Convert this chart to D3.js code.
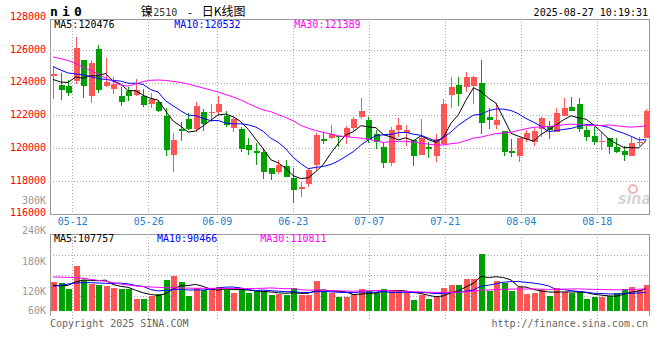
<!DOCTYPE html>
<html><head><meta charset="utf-8">
<script src="https://cdn.jsdelivr.net/npm/d3@7"></script>
<style>
html,body{margin:0;padding:0;background:#fff;}
svg{display:block;}
text{font-family:"DejaVu Sans Mono","Liberation Mono",monospace;font-size:10px;}
</style></head><body>
<svg id="c" width="660" height="360"></svg>
<script>
// ---------- data ----------
const dates = ["05-07","05-08","05-09","05-12","05-13","05-14","05-15","05-16","05-19","05-20","05-21","05-22","05-23","05-26","05-27","05-28","05-29","05-30","06-03","06-04","06-05","06-06","06-09","06-10","06-11","06-12","06-13","06-16","06-17","06-18","06-19","06-20","06-23","06-24","06-25","06-26","06-27","06-30","07-01","07-02","07-03","07-04","07-07","07-08","07-09","07-10","07-11","07-14","07-15","07-16","07-17","07-18","07-21","07-22","07-23","07-24","07-25","07-28","07-29","07-30","07-31","08-01","08-04","08-05","08-06","08-07","08-08","08-11","08-12","08-13","08-14","08-15","08-18","08-19","08-20","08-21","08-22","08-25","08-26","08-27"];
const open = [124390,123860,123800,124130,125390,123210,126060,123820,123620,123210,123500,123250,123210,122680,122850,121970,119590,121180,121790,121180,122210,122190,122190,121990,121220,121180,120200,119850,119790,118810,118510,118920,118200,117490,117800,118940,120560,120650,120750,120670,121260,121930,121730,120870,120040,119120,121110,120910,120500,119590,120040,119490,120260,123250,123860,123760,123820,124000,121930,121420,121070,119830,119490,120540,120400,121180,121380,120970,121970,122500,122700,121110,120750,120420,120600,120040,119830,119490,120300,120610];
const high = [125040,124580,124170,126810,125390,125390,126310,125530,124370,123760,123720,124210,123600,123350,122950,122440,120950,121620,122130,122850,122380,122700,123210,122280,121890,121320,120610,120300,120000,118810,119280,119280,118810,117900,118710,120950,120970,121420,120750,121380,121930,123090,121890,121110,120360,121280,121830,121420,120500,121770,120400,120850,123010,124370,124370,124640,124430,125390,122440,122740,121070,120570,120650,121110,121220,121890,121660,122480,123090,123150,123090,121420,121320,121010,120600,120600,120100,120710,120670,122380];
const low = [123010,122950,123210,123900,123090,122780,123350,123760,123310,122580,122910,123190,122540,122480,122190,119530,118570,120460,121110,120970,121070,121620,122030,121320,120970,119790,119590,118980,118120,118020,118430,118220,116640,117000,117610,118670,120260,120540,120060,120260,121010,121790,120340,119950,118770,118920,120670,120100,118880,119590,119380,119140,120200,122480,122600,123410,122700,120850,121180,121180,119490,119450,119140,120400,120100,120710,120540,120970,121970,122300,121010,120460,120200,119890,119650,119730,119220,119490,120140,120610];
const close = [124510,123560,123390,126140,123820,125230,123560,124070,123900,122850,123210,123560,122640,122990,122280,119890,120500,121070,121180,122580,121480,122230,122700,121420,121790,119950,119890,119690,118510,118430,118940,118260,117410,117650,118670,120810,120460,120850,120670,121260,121790,122300,120500,120400,119120,121110,121420,121110,119490,120650,119930,120560,122700,123760,123310,124330,124370,121560,121730,121730,119790,119730,120650,120910,121070,121830,121110,122170,122480,122300,121180,120710,120400,120460,120040,119790,119550,120300,120400,122300];
const volume = [137900,135900,124000,169700,141900,133900,132600,129900,126000,124000,124000,104100,104100,109400,114000,141900,149800,137900,110100,126000,122000,122000,127300,126000,116000,123300,116000,120700,119300,111400,114700,111400,126000,112700,112700,140600,119300,116000,108100,108100,113400,124000,120000,115400,124000,122000,122000,116700,102100,111400,104700,108100,125300,131900,131900,143900,143900,194300,119300,140600,135300,120000,128000,114700,116700,121300,110100,125300,117300,116700,120700,104700,108100,108700,109400,116700,124000,128600,122000,131900];

// moving-average values at the left edge (history before the first visible day)
const ma5Lead = [124200,124050,124020,124350];
const ma10Lead = [124990,124780,124600,124540,124480,124380,124260,124200,124140];
const ma30Lead = [125580,125480,125360,125180,124960,124750,124540,124290,124080,123860,123800,123920,124080,124150,124170,124140,124080,124020,123920,123800,123680,123560,123430,123280,123130,122950,122730,122520,122330];
const volMa5Lead = [131900,130000,131300,137900];
const volMa10Lead = [129300,131300,133900,135900,136600,136600,135900,135300,135300];
const volMa30Lead = [147900,147500,147200,146500,145200,143200,141200,139200,136600,133900,131900,130000,128600,128000,127300,126600,126300,126000,125700,125400,125400,125300,125200,125100,125000,125000,125000,125100,125400];

const priceTicks = [128000,126000,124000,122000,120000,118000,116000];
const priceGrid = [126000,124000,122000,120000,118000];
const volTicks = [300000,240000,180000,120000,60000];
const dateTicks = ["05-12","05-26","06-09","06-23","07-07","07-21","08-04","08-18"];
const maLabels = ["MA5:120476","MA10:120532","MA30:121389"];
const volMaLabels = ["MA5:107757","MA10:90466","MA30:110811"];
const maColors = ["#000000","#0000ff","#ff00ff"];

// ---------- layout ----------
const svg = d3.select("#c");
const PL = 50, PR = 649, PT = 19, PB = 213.5, VT = 234, VB = 316, VBASE = 310.7;
const RED = "#ff5555", GREEN = "#00a000", GRID = "#a8a8a8", FRAME = "#999999";

const x = d3.scaleBand().domain(dates).range([49.25, 649.95]).paddingInner(0);
const xc = d => x(d) + x.bandwidth() / 2;
const gx = d3.scalePoint().domain(dates).range([49.5, 649.9]);
const y = d3.scaleLinear().domain([116000, 128000]).range([213.5, 17.4]);
const yv = d3.scaleLinear().domain([80800, 300000]).range([VBASE, 200.5]).clamp(true);

function movingAverage(values, n, lead) {
  return values.map((v, i) => i < n - 1 ? lead[i] : d3.mean(values.slice(i - n + 1, i + 1)));
}
const ma = [movingAverage(close, 5, ma5Lead), movingAverage(close, 10, ma10Lead), movingAverage(close, 30, ma30Lead)];
const vma = [movingAverage(volume, 5, volMa5Lead), movingAverage(volume, 10, volMa10Lead), movingAverage(volume, 30, volMa30Lead)];

const rows = dates.map((d, i) => ({d, i, o: open[i], h: high[i], l: low[i], c: close[i], v: volume[i], up: close[i] >= open[i]}));

// ---------- grid ----------
const grid = svg.append("g").attr("shape-rendering", "crispEdges");
grid.selectAll("line.h").data(priceGrid).join("line")
  .attr("x1", PL).attr("x2", PR)
  .attr("y1", d => Math.round(y(d)) + 0.5).attr("y2", d => Math.round(y(d)) + 0.5)
  .attr("stroke", GRID).attr("stroke-dasharray", "1,2");
grid.selectAll("line.vm").data(dateTicks).join("line")
  .attr("x1", d => Math.round(gx(d)) + 0.5).attr("x2", d => Math.round(gx(d)) + 0.5)
  .attr("y1", PT).attr("y2", PB)
  .attr("stroke", GRID).attr("stroke-dasharray", "1,2");
const vgrid = svg.append("g").attr("shape-rendering", "crispEdges");
[0.25, 0.5, 0.75].forEach(f => {
  const yy = Math.round(VT + (VB - VT) * f) + 0.5;
  vgrid.append("line").attr("x1", PL).attr("x2", PR).attr("y1", yy).attr("y2", yy)
    .attr("stroke", GRID).attr("stroke-dasharray", "1,2");
});
vgrid.selectAll("line.vv").data(dateTicks).join("line")
  .attr("x1", d => Math.round(gx(d)) + 0.5).attr("x2", d => Math.round(gx(d)) + 0.5)
  .attr("y1", VT).attr("y2", 320)
  .attr("stroke", GRID).attr("stroke-dasharray", "1,2");

// ---------- watermark ----------
const wm = svg.append("g");
wm.append("circle").attr("cx", 633).attr("cy", 189).attr("r", 4).attr("fill", "none").attr("stroke", "#f3b3b3").attr("stroke-width", 2);
wm.append("text").attr("x", 618).attr("y", 204).text("sina")
  .attr("textLength", 33).attr("lengthAdjust", "spacingAndGlyphs")
  .style("font-family", "DejaVu Sans").style("font-size", "15px").style("font-style", "italic").style("font-weight", "bold")
  .attr("fill", "#d6d6d6");

// ---------- frames ----------
const fr = svg.append("g").attr("shape-rendering", "crispEdges").attr("fill", "none").attr("stroke", FRAME);
fr.append("rect").attr("x", PL + 0.5).attr("y", PT + 0.5).attr("width", PR - PL).attr("height", PB - PT);
fr.append("path").attr("d", `M${PL + 0.5},${VB}V${VT + 0.5}H${PR + 0.5}V${VB}`);

// ---------- candles ----------
const cg = svg.append("g").attr("shape-rendering", "crispEdges");
cg.selectAll("line").data(rows).join("line")
  .attr("x1", r => Math.round(xc(r.d)) + 0.5).attr("x2", r => Math.round(xc(r.d)) + 0.5)
  .attr("y1", r => y(r.h)).attr("y2", r => y(r.l))
  .attr("stroke", r => r.up ? RED : GREEN);
cg.selectAll("rect").data(rows).join("rect")
  .attr("x", r => Math.round(xc(r.d)) - 2.5).attr("width", 6)
  .attr("y", r => y(Math.max(r.o, r.c)))
  .attr("height", r => Math.max(1, Math.abs(y(r.o) - y(r.c))))
  .attr("fill", r => r.up ? RED : GREEN);

// ---------- MA lines (price) ----------
const lineP = d3.line().x((v, i) => xc(dates[i])).y(v => y(v));
ma.forEach((s, k) => svg.append("path").attr("d", lineP(s)).attr("fill", "none").attr("stroke", maColors[k]).attr("stroke-width", 1));

// ---------- volume ----------
const vg = svg.append("g").attr("shape-rendering", "crispEdges");
vg.selectAll("rect").data(rows).join("rect")
  .attr("x", r => Math.round(xc(r.d)) - 2.5).attr("width", 6)
  .attr("y", r => yv(r.v)).attr("height", r => yv(80800) - yv(r.v))
  .attr("fill", r => r.up ? RED : GREEN);
const lineV = d3.line().x((v, i) => xc(dates[i])).y(v => yv(v));
vma.forEach((s, k) => svg.append("path").attr("d", lineV(s)).attr("fill", "none").attr("stroke", maColors[k]).attr("stroke-width", 1));

// ---------- axes ----------
const ay = svg.append("g").attr("transform", `translate(${PL},-1)`)
  .call(d3.axisLeft(y).tickValues(priceTicks).tickSize(0).tickPadding(4).tickFormat(d3.format("d")));
ay.select(".domain").remove();
ay.selectAll("text").attr("fill", "#ff0000").style("font-size", "10px").style("font-family", "DejaVu Sans Mono");

const av = svg.append("g").attr("transform", `translate(${PL},0)`)
  .call(d3.axisLeft(yv).tickValues(volTicks).tickSize(0).tickPadding(4).tickFormat(d => (d / 1000) + "K"));
av.select(".domain").remove();
av.selectAll("text").attr("fill", "#999999").style("font-size", "10px").style("font-family", "DejaVu Sans Mono");

const ax = svg.append("g").attr("transform", `translate(0,${PB})`)
  .call(d3.axisBottom(gx).tickValues(dateTicks).tickSize(0).tickPadding(4));
ax.select(".domain").remove();
ax.selectAll("text").attr("fill", "#1a7fd0").style("font-size", "10px").style("font-family", "DejaVu Sans Mono");

// ---------- texts ----------
const mx = [54.3, 174.3, 294.3];
maLabels.forEach((t, k) => svg.append("text").attr("x", mx[k]).attr("y", 27.5).attr("fill", maColors[k]).text(t));
const vx = [54, 157, 260.3];
volMaLabels.forEach((t, k) => svg.append("text").attr("x", vx[k]).attr("y", 242.2).attr("fill", maColors[k]).text(t));

svg.append("text").attr("x", 50).attr("y", 16).text("ni0")
  .style("font-size", "13px").style("font-weight", "bold").style("letter-spacing", "4.2px").attr("fill", "#000");
const tt = svg.append("text").attr("y", 15.5).attr("fill", "#000");
tt.append("tspan").attr("x", 140.7).style("font-family", "Noto Sans CJK SC").style("font-size", "12px").text("镍");
tt.append("tspan").attr("x", 153.3).style("font-size", "10px").attr("fill", "#333").text("2510");
tt.append("tspan").attr("x", 187).style("font-size", "10px").text("-");
tt.append("tspan").attr("x", 201.7).style("font-family", "Noto Sans CJK SC").style("font-size", "12px").text("日K线图");
svg.append("text").attr("x", 648).attr("y", 15.5).attr("text-anchor", "end").attr("fill", "#000").text("2025-08-27 10:19:31");

svg.append("text").attr("x", 50).attr("y", 327.3).attr("fill", "#666").text("Copyright 2025 SINA.COM");
svg.append("text").attr("x", 648).attr("y", 327.3).attr("text-anchor", "end").attr("fill", "#666").text("http://finance.sina.com.cn");
</script>
</body></html>
